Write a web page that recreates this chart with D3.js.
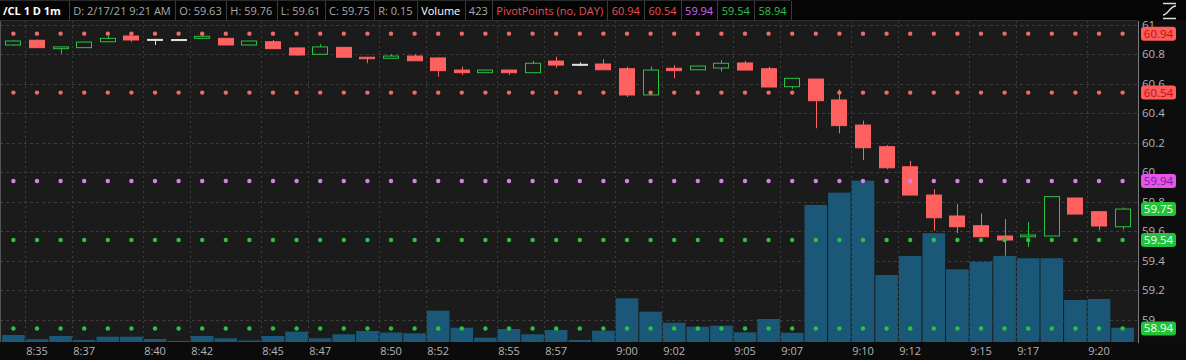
<!DOCTYPE html>
<html>
<head>
<script src="https://cdn.jsdelivr.net/npm/d3@7"></script>
<style>
body { margin: 0; background: #0b0b0b; }
svg text { font-family: "Open Sans", sans-serif; }
</style>
</head>
<body>
<script>
// one candle per minute, 8:34 .. 9:21
var times = ["8:34","8:35","8:36","8:37","8:38","8:39","8:40","8:41","8:42","8:43","8:44","8:45",
  "8:46","8:47","8:48","8:49","8:50","8:51","8:52","8:53","8:54","8:55","8:56","8:57",
  "8:58","8:59","9:00","9:01","9:02","9:03","9:04","9:05","9:06","9:07","9:08","9:09",
  "9:10","9:11","9:12","9:13","9:14","9:15","9:16","9:17","9:18","9:19","9:20","9:21"];

var opens = [60.863,60.895,60.838,60.845,60.885,60.924,60.901,60.900,60.908,60.908,60.863,60.885,
  60.843,60.800,60.847,60.780,60.773,60.788,60.775,60.693,60.675,60.693,60.675,60.754,
  60.732,60.734,60.702,60.524,60.705,60.695,60.707,60.741,60.702,60.580,60.632,60.490,
  60.320,60.173,60.037,59.845,59.703,59.637,59.567,59.562,59.567,59.825,59.732,59.63];
var highs = [60.895,60.900,60.850,60.885,60.924,60.940,60.905,60.903,60.925,60.910,60.890,60.897,
  60.845,60.868,60.850,60.782,60.800,60.800,60.780,60.716,60.693,60.695,60.756,60.784,
  60.745,60.766,60.716,60.716,60.727,60.720,60.761,60.756,60.716,60.637,60.632,60.562,
  60.350,60.184,60.076,59.884,59.784,59.720,59.682,59.662,59.834,59.825,59.732,59.76];
var lows = [60.860,60.845,60.804,60.845,60.885,60.885,60.863,60.898,60.905,60.863,60.860,60.838,
  60.790,60.800,60.780,60.739,60.770,60.756,60.648,60.660,60.675,60.660,60.675,60.709,
  60.720,60.695,60.510,60.524,60.637,60.695,60.684,60.693,60.578,60.566,60.298,60.264,
  60.083,60.020,59.845,59.603,59.586,59.562,59.434,59.493,59.567,59.716,59.608,59.61];
var closes = [60.890,60.845,60.850,60.883,60.908,60.897,60.901,60.900,60.922,60.863,60.890,60.838,
  60.795,60.850,60.780,60.770,60.788,60.756,60.689,60.675,60.693,60.675,60.739,60.727,
  60.732,60.695,60.524,60.693,60.689,60.720,60.739,60.693,60.578,60.637,60.485,60.316,
  60.166,60.030,59.845,59.691,59.630,59.562,59.540,59.574,59.834,59.716,59.635,59.75];
var volumes = [207,80,178,59,157,157,89,30,178,110,44,178,
  305,110,228,326,281,258,927,423,127,385,228,355,
  59,334,1294,897,571,453,482,287,681,275,4055,4419,
  4774,1983,2546,3218,2152,2377,2546,2478,2478,1243,1273,423];

var pivotLevels = [60.94, 60.54, 59.94, 59.54, 58.94];
var pivotColors = ["#ef6b6b", "#ef6b6b", "#d680ea", "#2bc243", "#2bc243"];
var lastPrice = 59.75;

var tickTimes = ["8:35","8:37","8:40","8:42","8:45","8:47","8:50","8:52","8:55","8:57",
  "9:00","9:02","9:05","9:07","9:10","9:12","9:15","9:17","9:20"];
var priceTicks = [61, 60.8, 60.6, 60.4, 60.2, 60, 59.8, 59.6, 59.4, 59.2, 59];

var headerLabels = ["/CL 1 D 1m","D: 2/17/21 9:21 AM","O: 59.63","H: 59.76","L: 59.61","C: 59.75",
  "R: 0.15","Volume","423","PivotPoints (no, DAY)","60.94","60.54","59.94","59.54","58.94"];
var headerColors = ["#ffffff","#a9a9a9","#a9a9a9","#a9a9a9","#a9a9a9","#a9a9a9",
  "#a9a9a9","#ffffff","#a9a9a9","#e85050","#e85050","#e85050","#d565e6","#2fc24a","#2fc24a"];

var width = 1186, height = 360;
var plotRight = 1138, plotTop = 21, plotBottom = 342;

var svg = d3.select("body").append("svg")
  .attr("width", width)
  .attr("height", height);

var x = d3.scaleBand().domain(times).range([1.6, 1134.4]).padding(0);
var bw = x.bandwidth();
var y = d3.scaleLinear().domain([59, 61]).range([319.6, 24.8]);
var yVol = d3.scaleLinear().domain([0, 5000]).range([plotBottom, plotBottom - 169]);

svg.append("clipPath").attr("id", "axclip").append("rect")
  .attr("x", plotRight).attr("y", plotTop).attr("width", width - plotRight).attr("height", height - plotTop);

// backgrounds
svg.append("rect").attr("x", 0).attr("y", 0).attr("width", width).attr("height", height).attr("fill", "#0b0b0b");
svg.append("rect").attr("x", 0).attr("y", plotTop).attr("width", plotRight).attr("height", plotBottom - plotTop)
  .attr("fill", "#1b1b1b");

// grid
svg.append("g").selectAll("line").data(priceTicks).enter().append("line")
  .attr("x1", 0).attr("x2", plotRight)
  .attr("y1", function(d){ return Math.round(y(d)) + 0.5; })
  .attr("y2", function(d){ return Math.round(y(d)) + 0.5; })
  .attr("stroke", "#3d3d3d").attr("stroke-dasharray", "3,3");
svg.append("g").selectAll("line").data(tickTimes).enter().append("line")
  .attr("x1", function(d){ return Math.round(x(d)) + 0.5; })
  .attr("x2", function(d){ return Math.round(x(d)) + 0.5; })
  .attr("y1", plotTop).attr("y2", plotBottom)
  .attr("stroke", "#3d3d3d").attr("stroke-dasharray", "2,3");

// volume
svg.append("g").selectAll("rect").data(times).enter().append("rect")
  .attr("x", function(d){ return x(d) + 0.5; })
  .attr("width", bw - 1)
  .attr("y", function(d, i){ return yVol(volumes[i]); })
  .attr("height", function(d, i){ return plotBottom - yVol(volumes[i]); })
  .attr("fill", "#1b5877");

// candles
var cw = 16;
var candles = svg.append("g").selectAll("g").data(times).enter().append("g");
function candleColor(i){
  if (closes[i] > opens[i]) return "#2bc243";
  if (closes[i] < opens[i]) return "#ff6060";
  return "#e0e0e0";
}
candles.append("line")
  .attr("x1", function(d){ return Math.round(x(d) + bw/2) + 0.5; })
  .attr("x2", function(d){ return Math.round(x(d) + bw/2) + 0.5; })
  .attr("y1", function(d, i){ return y(highs[i]); })
  .attr("y2", function(d, i){ return y(lows[i]); })
  .attr("stroke", function(d, i){ return candleColor(i); });
candles.append("rect")
  .attr("x", function(d){ return Math.round(x(d) + bw/2 - cw/2) + 0.5; })
  .attr("width", cw - 1)
  .attr("y", function(d, i){ return y(Math.max(opens[i], closes[i])); })
  .attr("height", function(d, i){ return Math.max(1, Math.abs(y(opens[i]) - y(closes[i]))); })
  .attr("fill", function(d, i){ return closes[i] < opens[i] ? "#ff6060" : (closes[i] > opens[i] ? "#1b1b1b" : "#e0e0e0"); })
  .attr("stroke", function(d, i){ return candleColor(i); });

// pivot dots
pivotLevels.forEach(function(lv, k){
  svg.append("g").selectAll("circle").data(times).enter().append("circle")
    .attr("cx", function(d){ return x(d) + bw/2; })
    .attr("cy", y(lv))
    .attr("r", 2.2)
    .attr("fill", pivotColors[k]);
});

// right axis
svg.append("rect").attr("x", plotRight).attr("y", plotTop).attr("width", width - plotRight).attr("height", plotBottom - plotTop + 1)
  .attr("fill", "#0d0d0d");
var yAxis = d3.axisRight(y).tickValues(priceTicks).tickSizeInner(-4).tickSizeOuter(0).tickPadding(4)
  .tickFormat(function(d){ return String(+d.toFixed(1)); });
var ga = svg.append("g").attr("clip-path", "url(#axclip)")
  .append("g").attr("transform", "translate(" + plotRight + ",0)").call(yAxis);
ga.select(".domain").remove();
ga.selectAll("line").attr("stroke", "#8a8a8a");
ga.selectAll("text").attr("fill", "#b4b4b4").style("font-size", "11.5px");
svg.append("line").attr("x1", plotRight + 0.5).attr("x2", plotRight + 0.5).attr("y1", plotTop).attr("y2", plotBottom + 1)
  .attr("stroke", "#7a7a7a");
svg.append("line").attr("x1", 0.5).attr("x2", 0.5).attr("y1", plotTop).attr("y2", plotBottom)
  .attr("stroke", "#555");

// price bubbles
var bubbles = pivotLevels.map(function(v, k){ return {v: v, bg: pivotColors[k]}; });
bubbles.splice(3, 0, {v: lastPrice, bg: "#2bc243"});
var bubbleText = {"#ef6b6b": "#b81414", "#d680ea": "#7d1a90", "#2bc243": "#f4fff4"};
var bg = svg.append("g").selectAll("g").data(bubbles).enter().append("g")
  .attr("transform", function(d){ return "translate(1141," + y(d.v) + ")"; });
bg.append("rect").attr("x", 0).attr("y", -7).attr("width", 35).attr("height", 14).attr("rx", 3)
  .attr("fill", function(d){ return d.bg === "#ef6b6b" ? "#ff5c5c" : (d.bg === "#d680ea" ? "#e455ea" : "#22c23a"); });
bg.append("text").attr("x", 17.5).attr("y", 0).attr("dy", "0.35em").attr("text-anchor", "middle")
  .style("font-size", "11.5px")
  .attr("fill", function(d){ return bubbleText[d.bg]; })
  .text(function(d){ return d.v.toFixed(2); });

// time axis
var xAxis = d3.axisBottom(x).tickValues(tickTimes).tickSize(0).tickPadding(5);
var gx = svg.append("g").attr("transform", "translate(0," + plotBottom + ")").call(xAxis);
gx.select(".domain").remove();
gx.selectAll("text").attr("fill", "#b4b4b4").style("font-size", "11px");

// header
svg.append("rect").attr("x", 0).attr("y", 0).attr("width", width).attr("height", 20).attr("fill", "#050505");
var hx = 3;
var seps = [];
headerLabels.forEach(function(t, i){
  var tx = i === 0 ? hx : hx + 4.3;
  var el = svg.append("text").attr("x", tx).attr("y", 14.5)
    .style("font-size", "11px")
    .style("font-weight", i === 0 ? "bold" : "normal")
    .attr("fill", headerColors[i]).text(t);
  var w = el.node().getComputedTextLength();
  hx = tx + w + (i === 0 ? 8 : 4.3);
  seps.push(hx);
});
svg.append("g").selectAll("line").data(seps).enter().append("line")
  .attr("x1", function(d){ return Math.round(d) + 0.5; })
  .attr("x2", function(d){ return Math.round(d) + 0.5; })
  .attr("y1", 1).attr("y2", 20).attr("stroke", "#3a3a3a");
svg.append("line").attr("x1", 0).attr("x2", seps[seps.length - 1]).attr("y1", 0.5).attr("y2", 0.5).attr("stroke", "#2a2a2a");
svg.append("line").attr("x1", 0).attr("x2", plotRight).attr("y1", 20.5).attr("y2", 20.5).attr("stroke", "#2e2e2e");

// small icon top right
svg.append("path")
  .attr("d", "M1163,3.5 L1176,3.5 M1163,18.5 L1176,18.5 M1163,15 C1168,15 1170,6 1176,6")
  .attr("fill", "none").attr("stroke", "#dcdcdc").attr("stroke-width", 1.4);
</script>
</body>
</html>
